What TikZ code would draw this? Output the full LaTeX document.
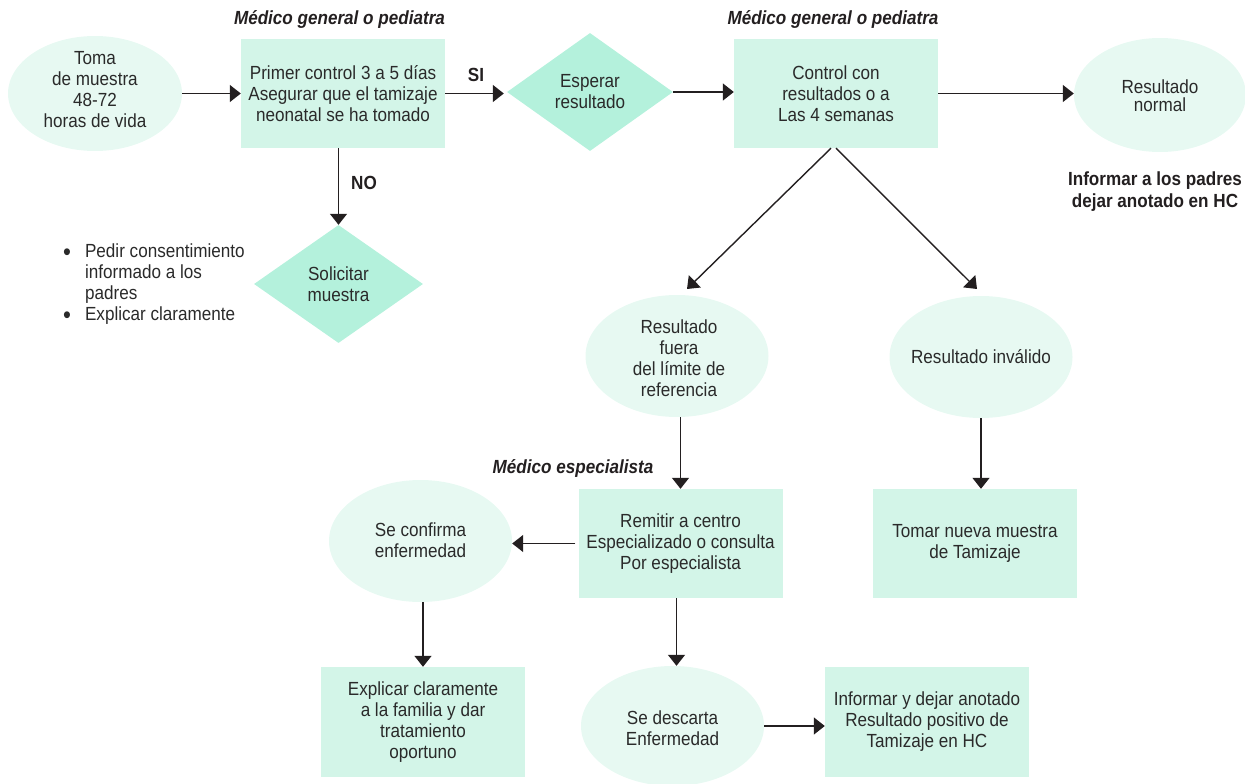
\documentclass[tikz,border=0pt]{standalone}
\usepackage{fontspec}
\setmainfont[FakeStretch=0.9]{Liberation Sans}
\usetikzlibrary{shapes.geometric,arrows.meta}
\definecolor{boxfill}{HTML}{D3F5E8}
\definecolor{ovalfill}{HTML}{E7F9F2}
\definecolor{diafill}{HTML}{B4F1DC}
\definecolor{ink}{HTML}{231F20}
\definecolor{txt}{HTML}{2A2A2A}
\newcommand{\bigdot}{\raisebox{-2.5pt}{\fontsize{25}{21}\selectfont •}}
\begin{document}
\begin{tikzpicture}[x=1pt,y=-1pt,
  every node/.style={font=\fontsize{19}{21}\selectfont, text=txt, align=center},
  stepbox/.style={rectangle, fill=boxfill, inner sep=0pt, minimum width=204pt, minimum height=109pt},
  oval/.style={ellipse, fill=ovalfill, inner sep=0pt, minimum width=183pt, minimum height=122pt},
  ovaltext/.style={inner sep=0pt},
  decision/.style={diamond, fill=diafill, inner sep=0pt, aspect=1.4, minimum width=166pt, minimum height=118pt},
  title/.style={font=\fontsize{19}{21}\selectfont\bfseries\itshape, text=ink},
  lbl/.style={font=\fontsize{19}{22}\selectfont\bfseries, text=ink},
  flow/.style={draw=ink, line width=1.4pt, -{Triangle[length=11pt,width=17pt]}}
]
\useasboundingbox (0,0) rectangle (1245,784);

% headings for each stage
\node[title] (t1) at (339.5,20) {Médico general o pediatra};
\node[title] (t2) at (833,20) {Médico general o pediatra};
\node[title] (t3) at (573,468) {Médico especialista};

% first row
\node[oval, minimum width=174pt, minimum height=115pt] (toma) at (95,93.5) {};
\node[ovaltext] (toma-t) at (95,90) {Toma\\de muestra\\48-72\\horas de vida};
\node[stepbox] (b1) at (343,93.5) {Primer control 3 a 5 días\\Asegurar que el tamizaje\\neonatal se ha tomado};
\node[decision] (d1) at (590,92) {Esperar\\resultado};
\node[stepbox] (b2) at (836,93.5) {Control con\\resultados o a\\Las 4 semanas};
\node[oval, minimum width=172pt, minimum height=114pt] (normal) at (1160,95) {};
\node[ovaltext, font=\fontsize{19}{18}\selectfont] (normal-t) at (1160,96) {Resultado\\normal};
\node[lbl] (info) at (1155,192) {Informar a los padres\\dejar anotado en HC};

% branch without screening
\node[decision, minimum width=169pt] (d2) at (338.5,284) {Solicitar\\muestra};
\node[anchor=west, inner sep=0pt] (bul) at (63,285) {%
  \begin{tabular}{@{}l@{\hspace{14pt}}l@{}}
  \bigdot & Pedir consentimiento\\
          & informado a los\\
          & padres\\
  \bigdot & Explicar claramente
  \end{tabular}};

% results
\node[oval] (fuera) at (677,356) {};
\node[ovaltext] (fuera-t) at (679,358) {Resultado\\fuera\\del límite de\\referencia};
\node[oval] (inval) at (981,357) {};
\node[ovaltext] (inval-t) at (981,357) {Resultado inválido};

% second row
\node[stepbox] (b3) at (680.5,543.5) {Remitir a centro\\Especializado o consulta\\Por especialista};
\node[stepbox] (b4) at (975,543.5) {Tomar nueva muestra\\de Tamizaje};
\node[oval] (conf) at (420.5,541) {};
\node[ovaltext] (conf-t) at (420.5,540) {Se confirma\\enfermedad};

% bottom row
\node[stepbox, minimum height=110pt] (b5) at (423,722) {Explicar claramente\\a la familia y dar\\tratamiento\\oportuno};
\node[oval, minimum height=120pt] (desc) at (672.5,726) {};
\node[ovaltext] (desc-t) at (672.5,728) {Se descarta\\Enfermedad};
\node[stepbox, minimum height=110pt] (b6) at (927,722) {Informar y dejar anotado\\Resultado positivo de\\Tamizaje en HC};

% decision labels
\node[lbl] (si) at (476,75) {SI};
\node[lbl] (no) at (364,183) {NO};

% connectors
\draw[flow] (toma.east |- b1.west) -- (b1.west);
\draw[flow, shorten >=3pt] (b1.east) -- (b1.east -| d1.west);
\draw[flow] (d1.east) -- (d1.east -| b2.west);
\draw[flow] (b2.east) -- (b2.east -| normal.west);
\draw[flow] (d2.north |- b1.south) -- (d2.north);

\coordinate (tipL) at (687,289);
\coordinate (tipR) at (977,289);
\draw[flow] ([xshift=-5pt]b2.south) -- (tipL);
\draw[flow] (b2.south) -- (tipR);

\draw[flow] (b3.north |- fuera.south) -- (b3.north);
\draw[flow] (inval.south) -- (inval.south |- b4.north);
\draw[flow, shorten <=3pt] (b3.west) -- (b3.west -| conf.east);
\draw[flow] (b5.north |- conf.south) -- (b5.north);
\draw[flow] ([xshift=-4pt]b3.south) -- ([xshift=-4pt]b3.south |- desc.north);
\draw[flow] (desc.east) -- (desc.east -| b6.west);
\end{tikzpicture}
\end{document}
